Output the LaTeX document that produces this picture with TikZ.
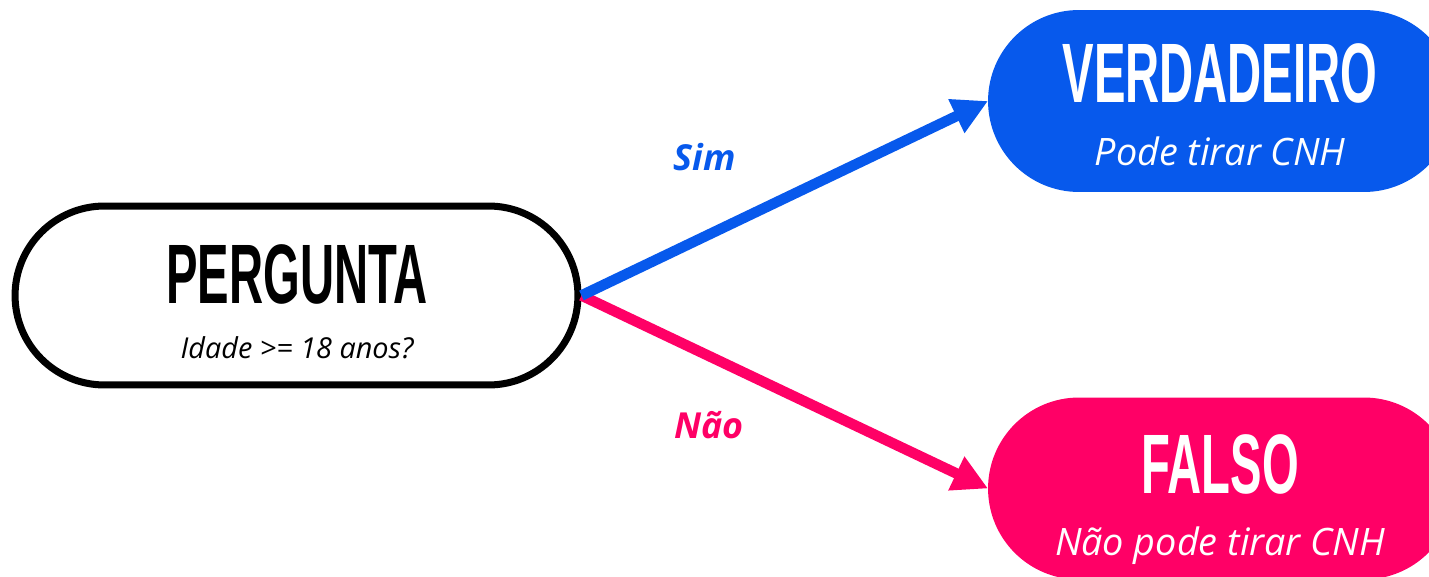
\documentclass[tikz,border=0pt]{standalone}
\usepackage{fontspec}
\setmainfont{Open Sans}
\newfontfamily\headfont{Liberation Sans}
\usetikzlibrary{arrows.meta,shapes.misc}
\definecolor{yesblue}{RGB}{7,89,236}
\definecolor{nopink}{RGB}{255,0,102}
\newcommand\headline[1]{\scalebox{0.56}[1]{\headfont\bfseries\fontsize{48pt}{48pt}\selectfont #1}}
\tikzset{
  pill/.style={rounded rectangle, minimum width=#1, inner sep=0pt},
  question/.style={pill=11.26cm, minimum height=3.58cm, draw=black, line width=4pt, fill=white},
  answer/.style={pill=9.34cm, minimum height=3.64cm, fill=#1, draw=none, outer sep=0pt},
  headtext/.style={anchor=base, inner sep=0pt},
  subtext/.style={anchor=base, inner sep=0pt, font=\itshape\fontsize{#1}{#1}\selectfont},
  branch/.style={draw=#1, line width=6pt, -{Triangle[length=20pt, width=20pt]}},
  branchlabel/.style={anchor=base, inner sep=0pt, text=#1, font=\bfseries\itshape\fontsize{20.4pt}{20.4pt}\selectfont}
}
\begin{document}
\begin{tikzpicture}[x=0.02cm, y=-0.02cm]
\useasboundingbox (0,0) rectangle (1429,577);
\clip (0,0) rectangle (1429,577);

% decision node
\node[question] (q) at (296.5,295.5) {};
\node[headtext] (qt) at (297,304) {\headline{PERGUNTA}};
\node[subtext=16.4pt] (qs) at (297,358) {Idade >= 18 anos?};

% outcomes
\node[answer=yesblue] (t) at (1221.5,101) {};
\node[headtext, text=white] (tt) at (1220,103) {\headline{VERDADEIRO}};
\node[subtext=21.5pt, text=white] (ts) at (1220,166) {Pode tirar CNH};

\node[answer=nopink] (f) at (1221.5,488.5) {};
\node[headtext, text=white] (ft) at (1220,493) {\headline{FALSO}};
\node[subtext=21.5pt, text=white] (fs) at (1220,555) {Não pode tirar CNH};

% branches
\draw[branch=nopink] (q.east) -- (f.west);
\draw[branch=yesblue] (q.east) -- (t.west);
\node[branchlabel=yesblue] (ly) at (705,171) {Sim};
\node[branchlabel=nopink] (ln) at (709,438) {Não};
\end{tikzpicture}
\end{document}
